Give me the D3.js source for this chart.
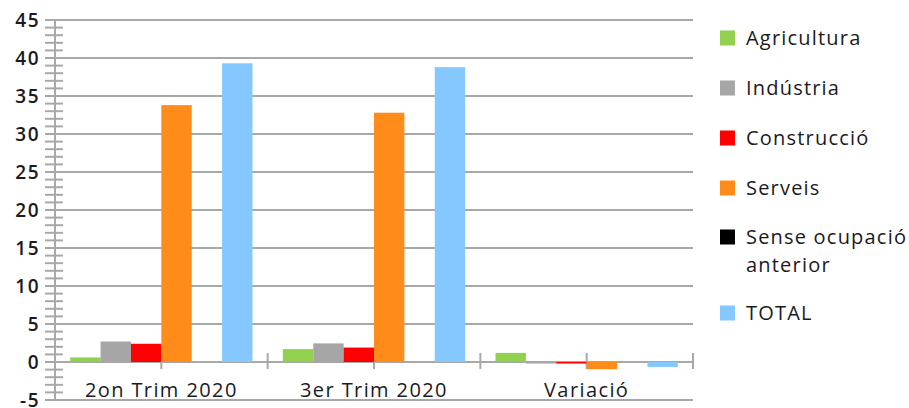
<!DOCTYPE html>
<html>
<head>
<meta charset="utf-8">
<script src="https://cdn.jsdelivr.net/npm/d3@7"></script>
<style>
  body { margin: 0; background: #fff; }
  text { font-family: "Open Sans", sans-serif; fill: #1a1a22; }
</style>
</head>
<body>
<div id="chart"></div>
<script>
"use strict";

const categories = ["2on Trim 2020", "3er Trim 2020", "Variació"];
const seriesNames = ["Agricultura", "Indústria", "Construcció", "Serveis", "Sense ocupació anterior", "TOTAL"];
const seriesColors = ["#92d050", "#a6a6a6", "#ff0000", "#ff8c1a", "#000000", "#85c8ff"];
const agricultura = [0.6, 1.7, 1.2];
const industria = [2.7, 2.45, -0.2];
const construccio = [2.4, 1.9, -0.2];
const serveis = [33.8, 32.8, -0.95];
const senseOcupacio = [0, 0, 0];
const total = [39.3, 38.8, -0.65];
const yTicks = [-5, 0, 5, 10, 15, 20, 25, 30, 35, 40, 45];

const values = [agricultura, industria, construccio, serveis, senseOcupacio, total];

const W = 909, H = 408;
const plotLeft = 55, plotRight = 693, plotTop = 20, plotBottom = 400;

const svg = d3.select("#chart").append("svg")
  .attr("width", W).attr("height", H);

const y = d3.scaleLinear().domain([-5, 45]).range([plotBottom, plotTop]);
const x0 = d3.scaleBand().domain(categories).range([plotLeft, plotRight]).paddingInner(0).paddingOuter(0);
const x1 = d3.scaleBand().domain(seriesNames).range([0, x0.bandwidth()]).paddingOuter(0.5).paddingInner(0);

// gridlines
svg.append("g").selectAll("line")
  .data(yTicks.filter(d => d !== 0))
  .join("line")
  .attr("x1", plotLeft).attr("x2", plotRight)
  .attr("y1", d => y(d)).attr("y2", d => y(d))
  .attr("stroke", "#a8a8a8").attr("stroke-width", 2);

// minor ticks on y axis
svg.append("g").selectAll("line")
  .data(d3.range(-5, 46, 1))
  .join("line")
  .attr("x1", plotLeft - 10).attr("x2", plotLeft + 8)
  .attr("y1", d => y(d)).attr("y2", d => y(d))
  .attr("stroke", "#a8a8a8").attr("stroke-width", 2);

// y axis line
svg.append("line")
  .attr("x1", plotLeft).attr("x2", plotLeft)
  .attr("y1", plotTop).attr("y2", plotBottom)
  .attr("stroke", "#a8a8a8").attr("stroke-width", 2);

// y labels
svg.append("g").selectAll("text")
  .data(yTicks)
  .join("text")
  .attr("x", 40).attr("y", d => y(d))
  .attr("dy", "0.36em")
  .attr("text-anchor", "end")
  .style("font-size", "19px")
  .style("font-weight", "600")
  .style("letter-spacing", "1.5px")
  .text(d => d);

// category ticks at boundaries and centers
const catTicks = [];
categories.forEach(c => {
  catTicks.push(x0(c) + x0.bandwidth() / 2);
  catTicks.push(x0(c) + x0.bandwidth());
});
svg.append("g").selectAll("line")
  .data(catTicks)
  .join("line")
  .attr("x1", d => d).attr("x2", d => d)
  .attr("y1", y(0) - 9).attr("y2", y(0) + 7)
  .attr("stroke", "#a8a8a8").attr("stroke-width", 2);

// zero axis line
svg.append("line")
  .attr("x1", plotLeft).attr("x2", plotRight)
  .attr("y1", y(0)).attr("y2", y(0))
  .attr("stroke", "#a8a8a8").attr("stroke-width", 2);

// bars
const groups = svg.append("g").selectAll("g")
  .data(categories)
  .join("g")
  .attr("transform", d => "translate(" + x0(d) + ",0)");

groups.selectAll("rect")
  .data((c, ci) => seriesNames.map((s, si) => ({ s: s, si: si, v: values[si][ci] })))
  .join("rect")
  .attr("x", d => x1(d.s))
  .attr("width", x1.bandwidth())
  .attr("y", d => y(Math.max(0, d.v)))
  .attr("height", d => Math.abs(y(d.v) - y(0)))
  .attr("fill", d => seriesColors[d.si]);

// category labels
svg.append("g").selectAll("text")
  .data(categories)
  .join("text")
  .attr("x", d => x0(d) + x0.bandwidth() / 2)
  .attr("y", 397)
  .attr("text-anchor", "middle")
  .style("font-size", "20px")
  .style("letter-spacing", "1.4px")
  .text(d => d);

// legend
const legendY = [38, 88, 138, 188, 237, 313];
const legend = svg.append("g");
seriesNames.forEach((s, i) => {
  const g = legend.append("g").attr("transform", "translate(720," + legendY[i] + ")");
  g.append("rect")
    .attr("x", 0).attr("y", -7.5)
    .attr("width", 15).attr("height", 15)
    .attr("fill", seriesColors[i]);
  const t = g.append("text")
    .attr("x", 26).attr("y", 0)
    .attr("dy", "0.35em")
    .style("font-size", "20px")
    .style("letter-spacing", "1.2px");
  if (s === "Sense ocupació anterior") {
    t.append("tspan").attr("x", 26).text("Sense ocupació");
    t.append("tspan").attr("x", 26).attr("dy", "1.4em").text("anterior");
  } else {
    t.text(s);
  }
});
</script>
</body>
</html>
